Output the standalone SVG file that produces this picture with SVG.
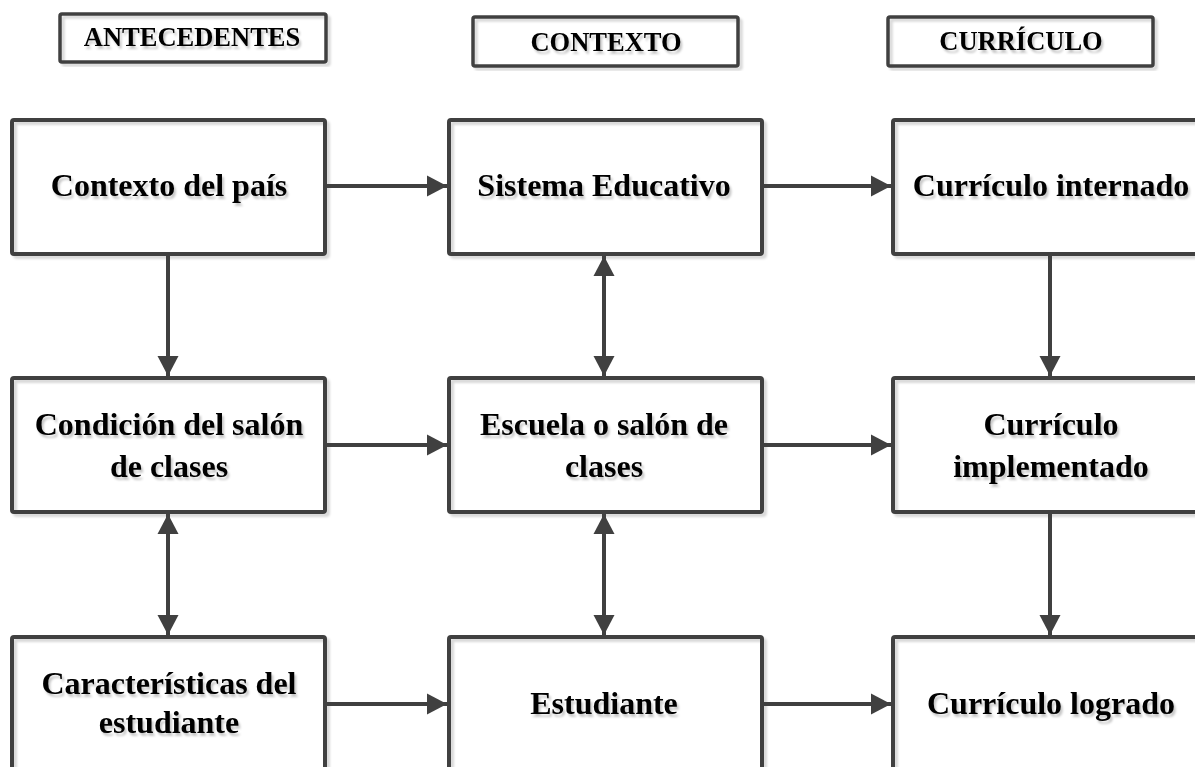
<svg xmlns="http://www.w3.org/2000/svg" width="1195" height="767" viewBox="0 0 1195 767">
<defs>
<style>
.box{fill:none;stroke:#404040;stroke-width:4;filter:url(#bsh)}
.hdr{fill:none;stroke:#404040;stroke-width:3.5;filter:url(#bsh)}
.t{font-family:"Liberation Serif","Times New Roman",serif;font-weight:bold;font-size:32px;fill:#000;text-anchor:middle;filter:url(#tsh)}
.h{font-family:"Liberation Serif","Times New Roman",serif;font-weight:bold;font-size:26.5px;fill:#000;text-anchor:middle;filter:url(#tsh)}
.c{stroke:#404040;stroke-width:4;fill:none}
.e{marker-end:url(#ah)}
.b{marker-start:url(#as);marker-end:url(#ah)}
</style>
<filter id="bsh" x="-5%" y="-5%" width="110%" height="115%">
<feOffset in="SourceAlpha" dx="3" dy="3" result="o"/>
<feGaussianBlur in="o" stdDeviation="0.8" result="b"/>
<feFlood flood-color="#000" flood-opacity="0.15"/>
<feComposite in2="b" operator="in" result="s"/>
<feMerge><feMergeNode in="s"/><feMergeNode in="SourceGraphic"/></feMerge>
</filter>
<filter id="tsh" x="-5%" y="-20%" width="110%" height="150%">
<feOffset in="SourceAlpha" dx="2" dy="3" result="o"/>
<feGaussianBlur in="o" stdDeviation="0.8" result="b"/>
<feFlood flood-color="#000" flood-opacity="0.22"/>
<feComposite in2="b" operator="in" result="s"/>
<feMerge><feMergeNode in="s"/><feMergeNode in="SourceGraphic"/></feMerge>
</filter>
<marker id="ah" markerUnits="userSpaceOnUse" markerWidth="22" markerHeight="22" refX="20" refY="10.5" orient="auto" viewBox="0 0 22 21">
<path d="M0,0 L20,10.5 L0,21 z" fill="#404040"/>
</marker>
<marker id="as" markerUnits="userSpaceOnUse" markerWidth="22" markerHeight="22" refX="0" refY="10.5" orient="auto" viewBox="0 0 22 21">
<path d="M20,0 L0,10.5 L20,21 z" fill="#404040"/>
</marker>
</defs>
<rect width="1195" height="767" fill="#fff"/>

<g id="h-antecedentes"><rect class="hdr" x="60" y="14" width="266" height="48" rx="2"/><text class="h" x="192" y="46">ANTECEDENTES</text></g>
<g id="h-contexto"><rect class="hdr" x="473" y="17" width="265" height="49" rx="2"/><text class="h" x="606" y="51">CONTEXTO</text></g>
<g id="h-curriculo"><rect class="hdr" x="888" y="17" width="265" height="49" rx="2"/><text class="h" x="1021" y="50">CURRÍCULO</text></g>

<g id="n-contexto-pais"><rect class="box" x="12" y="120" width="313" height="134" rx="2"/><text class="t" x="169" y="196">Contexto del país</text></g>
<g id="n-sistema"><rect class="box" x="449" y="120" width="313" height="134" rx="2"/><text class="t" x="604" y="196">Sistema Educativo</text></g>
<g id="n-cur-internado"><rect class="box" x="893" y="120" width="313" height="134" rx="2"/><text class="t" x="1051" y="196">Currículo internado</text></g>

<g id="n-condicion"><rect class="box" x="12" y="378" width="313" height="134" rx="2"/><text class="t" x="169" y="435">Condición del salón</text><text class="t" x="169" y="477">de clases</text></g>
<g id="n-escuela"><rect class="box" x="449" y="378" width="313" height="134" rx="2"/><text class="t" x="604" y="435">Escuela o salón de</text><text class="t" x="604" y="477">clases</text></g>
<g id="n-cur-impl"><rect class="box" x="893" y="378" width="313" height="134" rx="2"/><text class="t" x="1051" y="435">Currículo</text><text class="t" x="1051" y="477">implementado</text></g>

<g id="n-caracteristicas"><rect class="box" x="12" y="637" width="313" height="140" rx="2"/><text class="t" x="169" y="694">Características del</text><text class="t" x="169" y="733">estudiante</text></g>
<g id="n-estudiante"><rect class="box" x="449" y="637" width="313" height="140" rx="2"/><text class="t" x="604" y="714">Estudiante</text></g>
<g id="n-cur-logrado"><rect class="box" x="893" y="637" width="313" height="140" rx="2"/><text class="t" x="1051" y="714">Currículo logrado</text></g>

<g id="connectors">
<line class="c e" x1="327" y1="186" x2="447" y2="186"/>
<line class="c e" x1="764" y1="186" x2="891" y2="186"/>
<line class="c e" x1="327" y1="445" x2="447" y2="445"/>
<line class="c e" x1="764" y1="445" x2="891" y2="445"/>
<line class="c e" x1="327" y1="704" x2="447" y2="704"/>
<line class="c e" x1="764" y1="704" x2="891" y2="704"/>
<line class="c e" x1="168" y1="256" x2="168" y2="376"/>
<line class="c b" x1="604" y1="256" x2="604" y2="376"/>
<line class="c e" x1="1050" y1="256" x2="1050" y2="376"/>
<line class="c b" x1="168" y1="514" x2="168" y2="635"/>
<line class="c b" x1="604" y1="514" x2="604" y2="635"/>
<line class="c e" x1="1050" y1="514" x2="1050" y2="635"/>
</g>
</svg>
